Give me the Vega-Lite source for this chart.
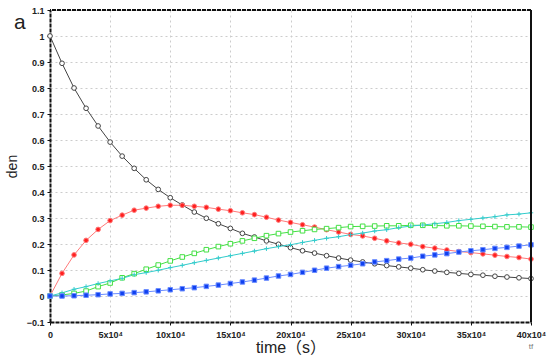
{
  "$schema": "https://vega.github.io/schema/vega-lite/v6.json",
  "width": 481,
  "height": 312,
  "autosize": "none",
  "padding": {"left": 50, "top": 10, "right": 19, "bottom": 33},
  "background": "white",
  "config": {"view": {"stroke": null}, "font": "Liberation Sans"},
  "data": {
    "values": [
      {"t": 0, "A": 1.0, "B": 0, "C": 0, "D": 0, "E": 0},
      {"t": 10000, "A": 0.895, "B": 0.087, "C": 0.004, "D": 0.012, "E": 0.0},
      {"t": 20000, "A": 0.8, "B": 0.158, "C": 0.01, "D": 0.026, "E": 0.001},
      {"t": 30000, "A": 0.722, "B": 0.214, "C": 0.019, "D": 0.036, "E": 0.003},
      {"t": 40000, "A": 0.654, "B": 0.256, "C": 0.036, "D": 0.048, "E": 0.005},
      {"t": 50000, "A": 0.592, "B": 0.29, "C": 0.05, "D": 0.058, "E": 0.008},
      {"t": 60000, "A": 0.538, "B": 0.311, "C": 0.07, "D": 0.068, "E": 0.01},
      {"t": 70000, "A": 0.491, "B": 0.33, "C": 0.086, "D": 0.082, "E": 0.013},
      {"t": 80000, "A": 0.447, "B": 0.338, "C": 0.103, "D": 0.09, "E": 0.016},
      {"t": 90000, "A": 0.41, "B": 0.345, "C": 0.119, "D": 0.099, "E": 0.02},
      {"t": 100000, "A": 0.378, "B": 0.349, "C": 0.135, "D": 0.109, "E": 0.024},
      {"t": 110000, "A": 0.35, "B": 0.349, "C": 0.15, "D": 0.118, "E": 0.028},
      {"t": 120000, "A": 0.323, "B": 0.345, "C": 0.164, "D": 0.128, "E": 0.032},
      {"t": 130000, "A": 0.299, "B": 0.341, "C": 0.178, "D": 0.137, "E": 0.037},
      {"t": 140000, "A": 0.278, "B": 0.334, "C": 0.19, "D": 0.146, "E": 0.042},
      {"t": 150000, "A": 0.26, "B": 0.328, "C": 0.201, "D": 0.155, "E": 0.048},
      {"t": 160000, "A": 0.241, "B": 0.32, "C": 0.212, "D": 0.164, "E": 0.054},
      {"t": 170000, "A": 0.227, "B": 0.313, "C": 0.222, "D": 0.173, "E": 0.061},
      {"t": 180000, "A": 0.212, "B": 0.303, "C": 0.232, "D": 0.182, "E": 0.069},
      {"t": 190000, "A": 0.199, "B": 0.292, "C": 0.24, "D": 0.19, "E": 0.077},
      {"t": 200000, "A": 0.186, "B": 0.283, "C": 0.246, "D": 0.197, "E": 0.083},
      {"t": 210000, "A": 0.174, "B": 0.274, "C": 0.251, "D": 0.206, "E": 0.091},
      {"t": 220000, "A": 0.165, "B": 0.265, "C": 0.256, "D": 0.214, "E": 0.099},
      {"t": 230000, "A": 0.155, "B": 0.255, "C": 0.259, "D": 0.222, "E": 0.107},
      {"t": 240000, "A": 0.146, "B": 0.246, "C": 0.263, "D": 0.228, "E": 0.113},
      {"t": 250000, "A": 0.138, "B": 0.237, "C": 0.267, "D": 0.236, "E": 0.118},
      {"t": 260000, "A": 0.131, "B": 0.231, "C": 0.268, "D": 0.242, "E": 0.124},
      {"t": 270000, "A": 0.124, "B": 0.222, "C": 0.269, "D": 0.25, "E": 0.131},
      {"t": 280000, "A": 0.117, "B": 0.212, "C": 0.27, "D": 0.255, "E": 0.136},
      {"t": 290000, "A": 0.112, "B": 0.204, "C": 0.27, "D": 0.263, "E": 0.142},
      {"t": 300000, "A": 0.107, "B": 0.199, "C": 0.272, "D": 0.269, "E": 0.146},
      {"t": 310000, "A": 0.101, "B": 0.19, "C": 0.272, "D": 0.273, "E": 0.153},
      {"t": 320000, "A": 0.096, "B": 0.184, "C": 0.271, "D": 0.278, "E": 0.158},
      {"t": 330000, "A": 0.091, "B": 0.177, "C": 0.27, "D": 0.283, "E": 0.163},
      {"t": 340000, "A": 0.087, "B": 0.171, "C": 0.27, "D": 0.29, "E": 0.169},
      {"t": 350000, "A": 0.083, "B": 0.167, "C": 0.269, "D": 0.295, "E": 0.174},
      {"t": 360000, "A": 0.08, "B": 0.162, "C": 0.268, "D": 0.3, "E": 0.178},
      {"t": 370000, "A": 0.076, "B": 0.157, "C": 0.267, "D": 0.305, "E": 0.183},
      {"t": 380000, "A": 0.073, "B": 0.152, "C": 0.266, "D": 0.312, "E": 0.187},
      {"t": 390000, "A": 0.07, "B": 0.148, "C": 0.266, "D": 0.315, "E": 0.192},
      {"t": 400000, "A": 0.067, "B": 0.142, "C": 0.265, "D": 0.32, "E": 0.197}
    ]
  },
  "transform": [{"fold": ["A", "B", "C", "D", "E"], "as": ["s", "v"]}],
  "encoding": {
    "x": {
      "field": "t", "type": "quantitative",
      "scale": {"domain": [0, 400000], "nice": false, "zero": false},
      "axis": {
        "values": [0, 50000, 100000, 150000, 200000, 250000, 300000, 350000, 400000],
        "labelExpr": "datum.value == 0 ? '0' : (datum.value / 10000) + 'x10⁴'",
        "title": "time（s）",
        "titleFont": "Liberation Sans, Noto Sans CJK SC",
        "titleFontSize": 16, "titleFontWeight": "normal", "titleColor": "#222",
        "titlePadding": 0,
        "labelFontSize": 9, "labelFontWeight": "bold", "labelColor": "#222",
        "labelPadding": 5, "labelFlush": false,
        "grid": true, "gridColor": "#cccccc", "gridDash": [2, 3], "gridWidth": 1,
        "domainColor": "#111", "domainWidth": 2, "domainDash": [4, 1],
        "tickColor": "#111", "tickSize": 3, "tickWidth": 1
      }
    },
    "y": {
      "field": "v", "type": "quantitative",
      "scale": {"domain": [-0.1, 1.1], "nice": false, "zero": false},
      "axis": {
        "values": [-0.1, 0, 0.1, 0.2, 0.3, 0.4, 0.5, 0.6, 0.7, 0.8, 0.9, 1, 1.1],
        "format": ".1~f",
        "title": "den",
        "titleFontSize": 14, "titleFontWeight": "normal", "titleColor": "#222",
        "titlePadding": 7,
        "labelFontSize": 9, "labelFontWeight": "bold", "labelColor": "#222",
        "labelPadding": 3,
        "grid": true, "gridColor": "#cccccc", "gridDash": [2, 3], "gridWidth": 1,
        "domainColor": "#111", "domainWidth": 2, "domainDash": [4, 1],
        "tickColor": "#111", "tickSize": 3, "tickWidth": 1
      }
    }
  },
  "layer": [
    {
      "mark": {"type": "line", "strokeWidth": 1},
      "encoding": {
        "stroke": {
          "field": "s", "type": "nominal", "legend": null,
          "scale": {"domain": ["A", "B", "C", "D", "E"], "range": ["#444444", "#ff7a7a", "#44e044", "#33cccc", "#6a8cff"]}
        },
        "detail": {"field": "s"}
      }
    },
    {
      "mark": {"type": "point", "opacity": 1, "strokeWidth": 1},
      "encoding": {
        "shape": {
          "field": "s", "type": "nominal", "legend": null,
          "scale": {"domain": ["A", "B", "C", "D", "E"], "range": ["circle", "circle", "square", "M-1,0L1,0M0,-1L0,1", "square"]}
        },
        "fill": {
          "field": "s", "type": "nominal", "legend": null,
          "scale": {"domain": ["A", "B", "C", "D", "E"], "range": ["#ffffff", "#ff2020", "#ffffff", "transparent", "#1040f0"]}
        },
        "stroke": {
          "field": "s", "type": "nominal", "legend": null,
          "scale": {"domain": ["A", "B", "C", "D", "E"], "range": ["#333333", "#ff2020", "#10d010", "#20c8d0", "#1040f0"]}
        },
        "size": {
          "field": "s", "type": "nominal", "legend": null,
          "scale": {"domain": ["A", "B", "C", "D", "E"], "range": [22, 20, 34, 45, 32]}
        }
      }
    },
    {
      "data": {"values": [{"x": 400000}]},
      "mark": {"type": "rule", "color": "#111", "strokeWidth": 2},
      "encoding": {"x": {"field": "x", "type": "quantitative"}, "y": null}
    },
    {
      "data": {"values": [{"y": 1.1}]},
      "mark": {"type": "rule", "color": "#111", "strokeWidth": 2, "strokeDash": [4, 1]},
      "encoding": {"y": {"field": "y", "type": "quantitative"}, "x": null}
    },
    {
      "data": {"values": [{"label": "a", "x": -25000, "y": 1.05}]},
      "mark": {"type": "text", "fontSize": 21, "color": "#222", "align": "center", "baseline": "middle", "font": "Liberation Sans"},
      "encoding": {
        "x": {"field": "x", "type": "quantitative"},
        "y": {"field": "y", "type": "quantitative"},
        "text": {"field": "label"}
      }
    },
    {
      "data": {"values": [{"label": "tf", "x": 400000, "y": -0.195}]},
      "mark": {"type": "text", "fontSize": 8, "color": "#777", "align": "center", "baseline": "middle"},
      "encoding": {
        "x": {"field": "x", "type": "quantitative"},
        "y": {"field": "y", "type": "quantitative"},
        "text": {"field": "label"}
      }
    }
  ]
}
